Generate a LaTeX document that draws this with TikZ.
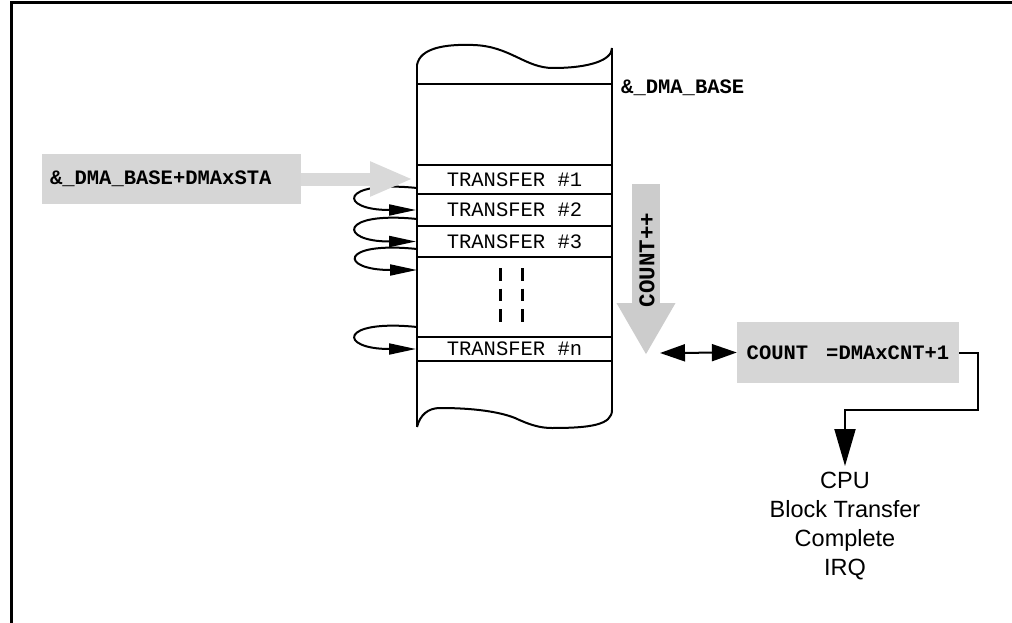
\documentclass[tikz,border=0pt]{standalone}
\usepackage{fontspec}
\setmainfont{Liberation Sans}
\setmonofont{Liberation Mono}
\usetikzlibrary{arrows.meta}
\begin{document}
\begin{tikzpicture}[x=1pt,y=-1pt,
  monotext/.style={font=\fontsize{20.5}{24}\selectfont\ttfamily},
  monobold/.style={font=\fontsize{20.5}{24}\selectfont\ttfamily\bfseries},
  colline/.style={line width=2pt},
  rowbox/.style={draw, line width=2pt, minimum width=195pt, inner sep=0pt, monotext},
  looparrow/.style={line width=2pt, -{Triangle[length=27pt,width=11pt]}},
  graybox/.style={fill=black!16, draw=none},
  blackarrow/.style={line width=2pt, -{Triangle[length=37pt,width=21pt]}},
]
\useasboundingbox (0,0) rectangle (1012,623);
\fill[white] (0,0) rectangle (1012,623);
% outer frame
\draw[line width=3pt] (11,623) -- (11,3) -- (1012,3);

% memory column
\draw[colline] (417,65) .. controls (420,48) and (445,44) .. (473,45)
   .. controls (510,46) and (525,68) .. (553,68)
   .. controls (590,68) and (612,60) .. (612,48);
\draw[colline] (417,65) -- (417,427);
\draw[colline] (612,48) -- (612,410);
\draw[colline] (417,427) .. controls (420,415) and (428,408) .. (440,408)
   .. controls (475,408) and (500,412) .. (515,418)
   .. controls (530,425) and (540,428) .. (552,428)
   .. controls (590,428) and (612,425) .. (612,410);
\draw[colline] (417,84) -- (612,84);

\node[rowbox, minimum height=29pt] (t1) at (514.5,179.5) {TRANSFER \#1};
\node[rowbox, minimum height=32pt] (t2) at (514.5,210) {TRANSFER \#2};
\node[rowbox, minimum height=31pt] (t3) at (514.5,241.5) {TRANSFER \#3};
\node[rowbox, minimum height=24pt] (tn) at (514.5,349) {TRANSFER \#n};

% dashed continuation marks
\draw[line width=3pt, dash pattern=on 12.5pt off 8pt] (500,268) -- (500,322);
\draw[line width=3pt, dash pattern=on 12.5pt off 8pt] (522,268) -- (522,322);

% loop arrows
\coordinate (s1) at (417,188);
\coordinate (s2) at (417,219);
\coordinate (s3) at (417,249);
\coordinate (e3) at (417,270);
\coordinate (s4) at (417,327);
\draw[looparrow] (s1) .. controls +(-78,-8) and +(-78,0) .. (t2.west);
\draw[looparrow] (s2) .. controls +(-78,-8) and +(-78,0) .. (t3.west);
\draw[looparrow] (s3) .. controls +(-78,-8) and +(-78,0) .. (e3);
\draw[looparrow] (s4) .. controls +(-78,-8) and +(-78,0) .. (tn.west);

% labels
\node[monobold, anchor=west, inner sep=0pt] (base) at (621,88) {\&\_DMA\_BASE};

\node[graybox, monobold, minimum width=259pt, minimum height=50pt, text width=243pt,
      inner xsep=8pt, align=left] (sta) at (171.5,179) {\&\_DMA\_BASE+DMAxSTA};
\coordinate (statip) at (413,179);
\draw[draw=black!15, line width=13pt, -{Triangle[length=43pt,width=32pt]}] (sta.east) -- (statip);

% COUNT++ arrow
\coordinate (cpt) at (646,184);
\coordinate (cpb) at (646,355);
\draw[draw=black!20, line width=28pt, -{Triangle[length=52pt,width=55pt]}] (cpt) -- (cpb);
\node[font=\fontsize{22.5}{26}\selectfont\ttfamily\bfseries, rotate=90, inner sep=0pt] (cpp) at (647,260) {COUNT++};

% COUNT box
\node[graybox, monobold, minimum width=222pt, minimum height=61pt] (cnt) at (848,352.5) {COUNT\hspace{18pt}=DMAxCNT+1};
\coordinate (dl) at (660,353);
\draw[line width=2pt, {Triangle[length=25pt,width=17pt]}-{Triangle[length=25pt,width=17pt]}] (dl) -- (cnt.west);

% CPU
\node[font=\fontsize{23.5}{29}\selectfont, align=center, anchor=north, inner xsep=0pt, inner ysep=6pt] (cpu) at (845,466)
  {CPU\\Block Transfer\\Complete\\IRQ};
\draw[blackarrow] (cnt.east) -| (978,410) -| (cpu.north);
\end{tikzpicture}
\end{document}
